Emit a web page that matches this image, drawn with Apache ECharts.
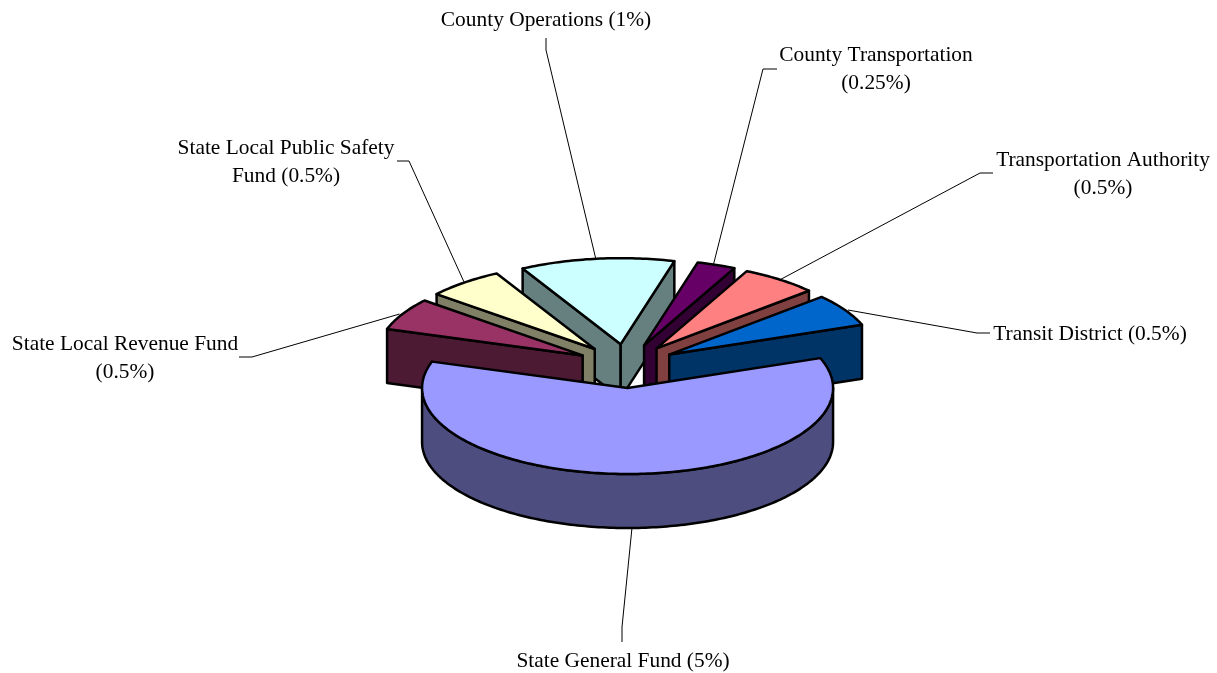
<!DOCTYPE html>
<html>
<head>
<meta charset="utf-8">
<style>
  html, body { margin: 0; padding: 0; background: #fff; }
  #chart { width: 1217px; height: 673px; }
</style>
<script src="https://cdn.jsdelivr.net/npm/echarts@6/dist/echarts.min.js"></script>
</head>
<body>
<div id="chart"></div>
<script>
// Datos del grafico, en el orden de las porciones (sentido horario)
const nombres = ['County Operations', 'County Transportation', 'Transportation Authority', 'Transit District', 'State General Fund', 'State Local Revenue Fund', 'State Local Public Safety Fund'];
const valores = [1, 0.25, 0.5, 0.5, 5, 0.5, 0.5];
const etiquetas = [
  ['County Operations (1%)'],
  ['County Transportation', '(0.25%)'],
  ['Transportation Authority', '(0.5%)'],
  ['Transit District (0.5%)'],
  ['State General Fund (5%)'],
  ['State Local Revenue Fund', '(0.5%)'],
  ['State Local Public Safety', 'Fund (0.5%)']
];
const coloresCara = ['#CCFFFF', '#660066', '#FF8080', '#0066CC', '#9999FF', '#993366', '#FFFFCC'];
const coloresLado = ['#668080', '#330033', '#804040', '#003366', '#4D4D80', '#4D1A33', '#808066'];

// Geometria del pastel en pantalla
const centroX = 626.5, centroY = 366;
const radioX = 205.5, radioY = 86, alto = 54;
const explosionX = 50, explosionY = 22;
const anguloInicial = 331.5;

// Posicion de cada etiqueta (centro de la primera linea) y codo de su linea guia
const posEtiquetas = [[546, 20], [876, 55], [1103, 160], [1090, 334], [623, 661], [125, 344], [286, 148]];
const guias = [
  [[546, 38], [546, 50]],
  [[777, 69], [763, 69]],
  [[993, 173], [980, 173]],
  [[990, 333], [977, 333]],
  [[622, 642], [622, 627]],
  [[239, 357], [252, 357]],
  [[397, 161], [409, 161]]
];
// Ajuste horizontal del punto donde la guia toca la porcion
const ajusteGuia = [-1, -3, 0, 3, 0, -3, 0];

const rad = g => g * Math.PI / 180;
const total = valores.reduce((a, b) => a + b, 0);

// Calcula angulos y punta de cada porcion a partir de los valores
let acumulado = anguloInicial;
const porciones = valores.map((v, i) => {
  if (acumulado >= 360) acumulado -= 360;
  const a0 = acumulado;
  const a1 = a0 + v / total * 360;
  acumulado = a1;
  const medio = (a0 + a1) / 2;
  return {
    i, a0, a1, medio,
    px: centroX + explosionX * Math.sin(rad(medio)),
    py: centroY - explosionY * Math.cos(rad(medio))
  };
});

// Punto del borde exterior para un angulo dado
function borde(p, ang, dy) {
  return [p.px + radioX * Math.sin(rad(ang)), p.py - radioY * Math.cos(rad(ang)) + (dy || 0)];
}

function arco(p, desde, hasta, dy) {
  const pts = [];
  const n = Math.max(2, Math.ceil(Math.abs(hasta - desde)));
  for (let k = 0; k <= n; k++) pts.push(borde(p, desde + (hasta - desde) * k / n, dy));
  return pts;
}

const trazo = { stroke: '#000', lineWidth: 2.5, lineJoin: 'round' };

function poligono(puntos, color) {
  return { type: 'polygon', shape: { points: puntos }, style: Object.assign({ fill: color }, trazo) };
}

// Dibuja una porcion: primero los lados visibles y despues la cara
function dibujarPorcion(params, api) {
  const p = porciones[api.value(0)];
  const lado = coloresLado[p.i];
  const hijos = [];
  const punta = [p.px, p.py];
  const puntaAbajo = [p.px, p.py + alto];
  if (Math.sin(rad(p.a0)) < 0) {
    hijos.push(poligono([punta, borde(p, p.a0), borde(p, p.a0, alto), puntaAbajo], lado));
  }
  if (Math.sin(rad(p.a1)) > 0) {
    hijos.push(poligono([punta, borde(p, p.a1), borde(p, p.a1, alto), puntaAbajo], lado));
  }
  const lo = Math.max(p.a0, 90), hi = Math.min(p.a1, 270);
  if (hi > lo) {
    hijos.push(poligono(arco(p, lo, hi).concat(arco(p, hi, lo, alto)), lado));
  }
  hijos.push(poligono([punta].concat(arco(p, p.a0, p.a1)), coloresCara[p.i]));
  return { type: 'group', children: hijos };
}

// Dibuja la etiqueta con su linea guia
function dibujarEtiqueta(params, api) {
  const p = porciones[api.value(0)];
  const frente = Math.cos(rad(p.medio)) < 0;
  const fin = borde(p, p.medio, frente ? alto : 0);
  fin[0] += ajusteGuia[p.i];
  const hijos = [{
    type: 'polyline',
    shape: { points: guias[p.i].concat([fin]) },
    style: { stroke: '#000', lineWidth: 1, fill: null }
  }];
  etiquetas[p.i].forEach((linea, k) => {
    hijos.push({
      type: 'text',
      style: {
        text: linea,
        x: posEtiquetas[p.i][0],
        y: posEtiquetas[p.i][1] + k * 28.5,
        fill: '#000',
        font: '21.4px "Liberation Serif", serif',
        align: 'center',
        verticalAlign: 'middle'
      }
    });
  });
  return { type: 'group', children: hijos };
}

// Orden de pintado: de atras hacia adelante
const ordenPintado = porciones.slice().sort((a, b) => a.py - b.py).map(p => [p.i]);

const grafico = echarts.init(document.getElementById('chart'), null, { renderer: 'canvas' });
grafico.setOption({
  animation: false,
  backgroundColor: '#fff',
  series: [
    { type: 'custom', name: 'Guias', coordinateSystem: 'none', silent: true, z: 1, renderItem: dibujarEtiqueta, data: valores.map((v, i) => [i]) },
    { type: 'custom', name: 'Porciones', coordinateSystem: 'none', silent: true, z: 2, renderItem: dibujarPorcion, data: ordenPintado }
  ]
});
</script>
</body>
</html>
